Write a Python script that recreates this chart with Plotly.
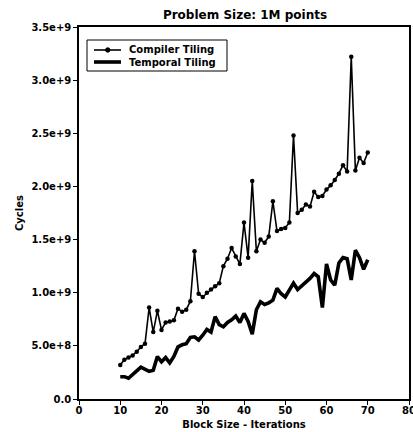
import plotly.graph_objects as go

# ---- data ----
block_size = list(range(10, 71))

compiler_tiling = [
    0.32e9, 0.37e9, 0.39e9, 0.41e9, 0.445e9, 0.49e9, 0.52e9, 0.86e9, 0.63e9, 0.83e9,
    0.65e9, 0.72e9, 0.73e9, 0.74e9, 0.85e9, 0.82e9, 0.84e9, 0.92e9, 1.39e9, 0.99e9,
    0.96e9, 1.00e9, 1.03e9, 1.06e9, 1.09e9, 1.25e9, 1.32e9, 1.42e9, 1.34e9, 1.27e9,
    1.66e9, 1.33e9, 2.05e9, 1.39e9, 1.50e9, 1.47e9, 1.53e9, 1.86e9, 1.58e9, 1.60e9,
    1.61e9, 1.66e9, 2.48e9, 1.75e9, 1.78e9, 1.83e9, 1.81e9, 1.95e9, 1.90e9, 1.91e9,
    1.97e9, 2.01e9, 2.06e9, 2.12e9, 2.20e9, 2.14e9, 3.22e9, 2.15e9, 2.27e9, 2.22e9,
    2.32e9,
]

temporal_tiling = [
    0.21e9, 0.21e9, 0.195e9, 0.235e9, 0.265e9, 0.30e9, 0.28e9, 0.26e9, 0.27e9, 0.40e9,
    0.35e9, 0.39e9, 0.34e9, 0.40e9, 0.49e9, 0.51e9, 0.52e9, 0.58e9, 0.585e9, 0.555e9,
    0.60e9, 0.655e9, 0.63e9, 0.775e9, 0.70e9, 0.68e9, 0.72e9, 0.745e9, 0.78e9, 0.72e9,
    0.805e9, 0.73e9, 0.61e9, 0.84e9, 0.915e9, 0.89e9, 0.905e9, 0.93e9, 1.04e9, 0.99e9,
    0.96e9, 1.02e9, 1.09e9, 1.03e9, 1.07e9, 1.10e9, 1.135e9, 1.18e9, 1.15e9, 0.86e9,
    1.27e9, 1.12e9, 1.07e9, 1.28e9, 1.33e9, 1.32e9, 1.12e9, 1.40e9, 1.33e9, 1.22e9,
    1.31e9,
]

x_tick_vals = [0, 10, 20, 30, 40, 50, 60, 70, 80]
x_tick_text = ["0", "10", "20", "30", "40", "50", "60", "70", "80"]
y_tick_vals = [0, 0.5e9, 1.0e9, 1.5e9, 2.0e9, 2.5e9, 3.0e9, 3.5e9]
y_tick_text = ["0.0", "5.0e+8", "1.0e+9", "1.5e+9", "2.0e+9", "2.5e+9", "3.0e+9", "3.5e+9"]

title_text = "Problem Size: 1M points"
x_title = "Block Size - Iterations"
y_title = "Cycles"
series_names = ["Compiler Tiling", "Temporal Tiling"]

FONT = "DejaVu Sans"
BLACK = "#000000"
W, H = 413, 432
ML, MR, MT, MB = 79, 4, 27, 33
PW, PH = W - ML - MR, H - MT - MB


def px_x(px):
    return (px - ML) / PW


def px_y(py):
    return (H - MB - py) / PH


def bold(size):
    return dict(family=FONT, size=size, color=BLACK, weight="bold")


fig = go.Figure()
fig.add_trace(go.Scatter(
    x=block_size, y=compiler_tiling, name=series_names[0],
    mode="lines+markers",
    line=dict(color=BLACK, width=1.6),
    marker=dict(color=BLACK, size=4.5, symbol="circle"),
))
fig.add_trace(go.Scatter(
    x=block_size, y=temporal_tiling, name=series_names[1],
    mode="lines",
    line=dict(color=BLACK, width=3.6),
))

axis_common = dict(
    showgrid=False, zeroline=False,
    showline=True, linecolor=BLACK, linewidth=1.5, mirror=True,
    ticks="outside", ticklen=4, tickwidth=1.2, tickcolor=BLACK,
    tickfont=bold(10), automargin=False,
)

# compact legend drawn in the corner (paper coordinates)
shapes = [
    dict(type="rect", xref="paper", yref="paper",
         x0=px_x(87), x1=px_x(227), y0=px_y(71), y1=px_y(40),
         line=dict(color=BLACK, width=1), fillcolor="white", layer="above"),
    dict(type="line", xref="paper", yref="paper",
         x0=px_x(94), x1=px_x(121), y0=px_y(50), y1=px_y(50),
         line=dict(color=BLACK, width=1.6), layer="above"),
    dict(type="circle", xref="paper", yref="paper",
         x0=px_x(105.5), x1=px_x(110), y0=px_y(52.2), y1=px_y(47.8),
         line=dict(color=BLACK, width=1), fillcolor=BLACK, layer="above"),
    dict(type="line", xref="paper", yref="paper",
         x0=px_x(94), x1=px_x(121), y0=px_y(62), y1=px_y(62),
         line=dict(color=BLACK, width=3.6), layer="above"),
]
annotations = [
    dict(xref="paper", yref="paper", x=px_x(127), y=px_y(50), text=series_names[0],
         showarrow=False, xanchor="left", yanchor="middle", font=bold(10)),
    dict(xref="paper", yref="paper", x=px_x(127), y=px_y(62), text=series_names[1],
         showarrow=False, xanchor="left", yanchor="middle", font=bold(10)),
]

fig.update_layout(
    template="none",
    width=W, height=H,
    font=dict(family=FONT, color=BLACK),
    margin=dict(l=ML, r=MR, t=MT, b=MB, autoexpand=False),
    paper_bgcolor="white", plot_bgcolor="white",
    title=dict(text=title_text, x=245 / W, xanchor="center", y=1 - 15 / H, yanchor="middle",
               font=bold(12)),
    xaxis=dict(range=[0, 80], tickvals=x_tick_vals, ticktext=x_tick_text,
               ticklabelstandoff=-3, ticklabeloverflow="allow",
               title=dict(text=x_title, standoff=6, font=bold(10)),
               **axis_common),
    yaxis=dict(range=[0, 3.5e9], tickvals=y_tick_vals, ticktext=y_tick_text,
               title=dict(text=y_title, standoff=6, font=bold(10)),
               **axis_common),
    shapes=shapes,
    annotations=annotations,
    showlegend=False,
)

fig.write_html("out.html", config={"displayModeBar": False},
               post_script="document.body.style.margin='0';")
